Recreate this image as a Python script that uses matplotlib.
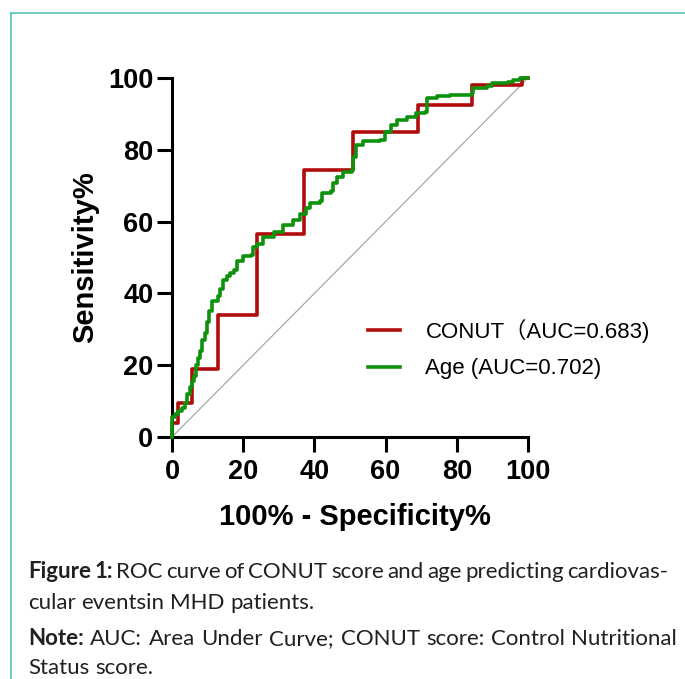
import matplotlib
matplotlib.use("Agg")
import matplotlib.pyplot as plt
import matplotlib.transforms as mtransforms
from matplotlib.font_manager import FontProperties

# ROC points (100% - specificity, sensitivity)
conut_fpr = [0, 0, 1.7, 5.5, 12.8, 24.0, 37.0, 50.9, 69.0, 84.2, 98.2, 100]
conut_tpr = [0, 3.8, 9.5, 18.9, 34.0, 56.6, 74.4, 84.9, 92.5, 98.1, 100, 100]

age_fpr = [0, 0, 0.8, 1.8, 2.8, 3.6, 4.2, 5.0, 5.6, 6.3, 6.8, 7.4, 7.9, 8.4, 9.2,
           9.8, 10.3, 11.2, 12.9, 13.5, 14.2, 15.4, 16.3, 17.4, 18.3, 20.0, 22.1,
           22.7, 24.0, 25.6, 28.6, 31.2, 34.0, 36.0, 37.6, 38.8, 41.6, 42.1, 44.8,
           45.3, 46.3, 48.0, 50.6, 50.9, 51.8, 53.6, 58.4, 59.8, 61.6, 63.1, 65.9,
           68.6, 71.2, 71.5, 74.4, 78.1, 84.2, 84.6, 88.4, 89.8, 94.4, 95.9, 97.8, 100]
age_tpr = [0, 5.5, 6.5, 7.2, 8.0, 9.5, 12.0, 14.0, 15.5, 17.0, 20.0, 22.0, 24.0, 27.0, 29.0,
           32.0, 35.0, 37.8, 39.2, 41.2, 43.8, 44.8, 45.8, 46.5, 49.0, 50.3, 50.8,
           53.0, 53.8, 55.8, 57.2, 59.0, 60.5, 62.0, 63.8, 65.2, 65.6, 68.0, 68.5,
           70.7, 72.3, 73.9, 74.4, 78.0, 81.3, 82.4, 82.8, 85.0, 86.9, 88.3, 89.2,
           90.2, 90.6, 94.3, 94.9, 95.4, 95.8, 97.1, 97.7, 98.5, 99.0, 99.4, 99.9, 100]

labels = ["CONUT\uff08AUC=0.683)", "Age (AUC=0.702)"]
ticks = [0, 20, 40, 60, 80, 100]

fig = plt.figure(figsize=(6.85, 6.79), dpi=100)
ax = fig.add_axes([172 / 685, 242 / 679, 356 / 685, 359 / 679])

ax.plot([0, 100], [0, 100], color="#A8A8A8", lw=0.9, zorder=1, clip_on=False)
ax.plot(conut_fpr, conut_tpr, drawstyle="steps-post", color="#B00C0C", lw=2.6,
        label=labels[0], zorder=2, clip_on=False)
ax.plot(age_fpr, age_tpr, drawstyle="steps-post", color="#0E920E", lw=2.6,
        label=labels[1], zorder=3, clip_on=False)

ax.set_xlim(0, 100)
ax.set_ylim(0, 100)
ax.set_xticks(ticks)
ax.set_yticks(ticks)
for s in ["top", "right"]:
    ax.spines[s].set_visible(False)
for s in ["left", "bottom"]:
    ax.spines[s].set_linewidth(2.2)
ax.tick_params(direction="out", length=10.5, width=2.2, labelsize=19.5)
ax.tick_params(axis="x", pad=5)
ax.tick_params(axis="y", pad=3)
for t in ax.get_xticklabels() + ax.get_yticklabels():
    t.set_fontfamily("Liberation Sans")
    t.set_fontweight("bold")

ax.set_xlabel("100% - Specificity%", fontsize=21, fontweight="bold", family="Liberation Sans")
ax.set_ylabel("Sensitivity%", fontsize=21, fontweight="bold", family="Liberation Sans")
ax.xaxis.set_label_coords(0.514, -0.185)
ax.yaxis.set_label_coords(-0.205, 0.5)

leg_font = FontProperties(family=["Liberation Sans", "Noto Sans CJK SC"], size=16)
ax.legend(loc="center left", bbox_to_anchor=(0.551, 0.245), frameon=False,
          borderpad=0, borderaxespad=0, handlelength=1.45, handletextpad=1.13,
          labelspacing=0.7, prop=leg_font)

# teal frame lines of the page
fig.add_artist(plt.Line2D([11 / 685, 11 / 685], [0, 1 - 13 / 679], color="#55C4B4", lw=1.2))
fig.add_artist(plt.Line2D([11 / 685, 1], [1 - 13 / 679, 1 - 13 / 679], color="#55C4B4", lw=1.2))

# caption
px = mtransforms.IdentityTransform()
renderer = fig.canvas.get_renderer()
cap_size = 16
cap_color = "#231F20"


def put_line(words, y, x0, x1=None):
    # words: list of (text, bold)
    arts = []
    for w, b in words:
        t = fig.text(0, 679 - y, w, transform=px, fontsize=cap_size, family="Lato",
                     fontweight="bold" if b else "normal", color=cap_color, va="baseline")
        arts.append(t)
    widths = [a.get_window_extent(renderer).width for a in arts]
    space = fig.text(0, 0, "a a", fontsize=cap_size, family="Lato", transform=px)
    sw = space.get_window_extent(renderer).width
    space.set_text("aa")
    sw -= space.get_window_extent(renderer).width
    space.remove()
    if x1 is not None and len(arts) > 1:
        gap = (x1 - x0 - sum(widths)) / (len(arts) - 1)
    else:
        gap = sw
    x = x0
    for a, w in zip(arts, widths):
        a.set_x(x)
        x += w + gap


put_line([("Figure", True), ("1:", True)] + [(w, False) for w in
         "ROC curve of CONUT score and age predicting cardiovas-".split()], 578, 28, 668)
put_line([(w, False) for w in "cular eventsin MHD patients.".split()], 609, 28)
put_line([("Note:", True)] + [(w, False) for w in
         "AUC: Area Under Curve; CONUT score: Control Nutritional".split()], 645, 28, 677)
put_line([(w, False) for w in "Status score.".split()], 674, 28)

fig.savefig("out.png", dpi=100)
